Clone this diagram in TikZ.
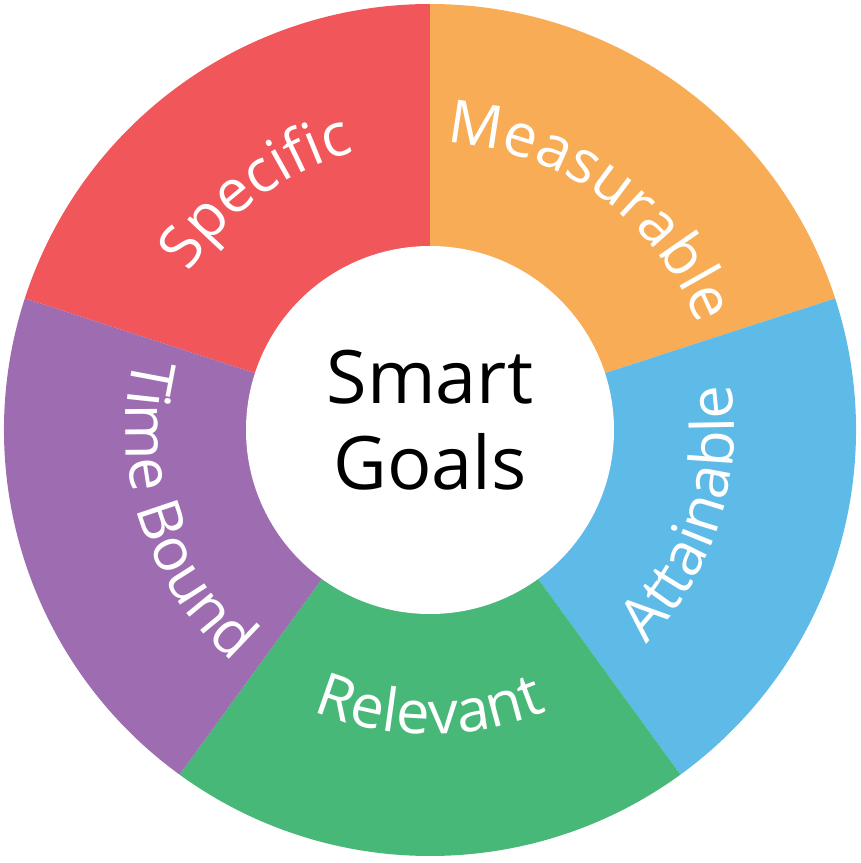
\documentclass[tikz,border=0pt]{standalone}
\usepackage{fontspec}
\setmainfont{Open Sans}
\usepackage{xcolor}
\usepackage{tikz}
\usetikzlibrary{decorations.text}

\definecolor{specred}{HTML}{F0565A}
\definecolor{measorange}{HTML}{F8AC56}
\definecolor{attblue}{HTML}{5EBAE6}
\definecolor{relgreen}{HTML}{48B878}
\definecolor{timepurple}{HTML}{9E6CB0}

\newcommand{\segfont}{\fontsize{17}{20}\selectfont\color{white}}

\begin{document}
\begin{tikzpicture}[
  seglabel/.style={decorate, decoration={text along path, text align=center}}
]
  \useasboundingbox (-4.30,-4.33) rectangle (4.30,4.30);

  % the five wedges
  \fill[specred]    (0,0) -- (162:4.26) arc[start angle=162, end angle=90, radius=4.26] -- cycle;
  \fill[measorange] (0,0) -- (90:4.26) arc[start angle=90, end angle=18, radius=4.26] -- cycle;
  \fill[attblue]    (0,0) -- (18:4.26) arc[start angle=18, end angle=-54, radius=4.26] -- cycle;
  \fill[relgreen]   (0,0) -- (-54:4.26) arc[start angle=-54, end angle=-126, radius=4.26] -- cycle;
  \fill[timepurple] (0,0) -- (-126:4.26) arc[start angle=-126, end angle=-198, radius=4.26] -- cycle;

  % hub
  \node[circle, fill=white, minimum size=3.68cm, inner sep=0pt] (hub) {};
  \node[align=center, font=\fontsize{21}{24.5}\selectfont] (goals)
    at ([yshift=1mm]hub.center) {Smart\\Goals};

  % labels on the ring
  \path[seglabel, decoration={text={|\segfont|Specific}}]
    (166:2.88) arc[start angle=166, end angle=86, radius=2.88];
  \path[seglabel, decoration={text={|\segfont|Measurable}}]
    (94:2.88) arc[start angle=94, end angle=14, radius=2.88];
  \path[seglabel, decoration={text={|\segfont|Attainable}}]
    (-58:3.04) arc[start angle=-58, end angle=22, radius=3.04];
  \path[seglabel, decoration={text={|\segfont|Relevant}}]
    (-130:3.04) arc[start angle=-130, end angle=-50, radius=3.04];
  \path[seglabel, decoration={text={|\segfont|Time Bound}}]
    (158:3.04) arc[start angle=158, end angle=238, radius=3.04];
\end{tikzpicture}
\end{document}
